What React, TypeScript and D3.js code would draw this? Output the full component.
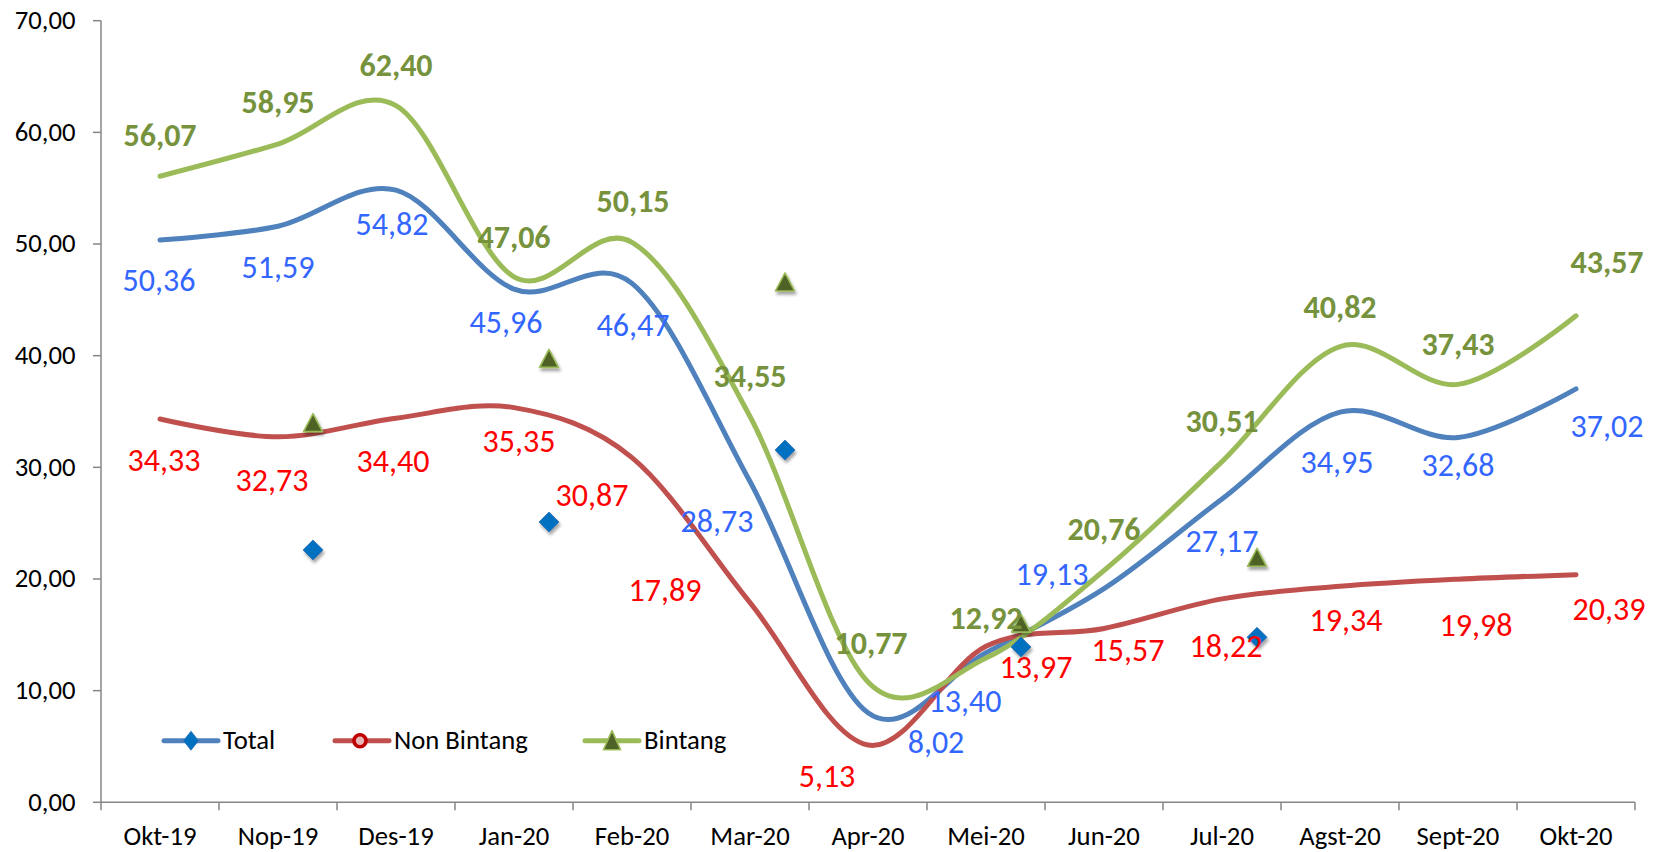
import React from 'react';
import * as d3 from 'd3';

const categories = ['Okt-19', 'Nop-19', 'Des-19', 'Jan-20', 'Feb-20', 'Mar-20', 'Apr-20', 'Mei-20', 'Jun-20', 'Jul-20', 'Agst-20', 'Sept-20', 'Okt-20'];
const total = [50.36, 51.59, 54.82, 45.96, 46.47, 28.73, 8.02, 13.40, 19.13, 27.17, 34.95, 32.68, 37.02];
const nonBintang = [34.33, 32.73, 34.40, 35.35, 30.87, 17.89, 5.13, 13.97, 15.57, 18.22, 19.34, 19.98, 20.39];
const bintang = [56.07, 58.95, 62.40, 47.06, 50.15, 34.55, 10.77, 12.92, 20.76, 30.51, 40.82, 37.43, 43.57];
const yTicks = [0, 10, 20, 30, 40, 50, 60, 70];
const strayCategories = ['Nop-19', 'Jan-20', 'Mar-20', 'Mei-20', 'Jul-20'];
const strayTotal = [22.6, 25.1, 31.55, 13.91, 14.78];
const strayBintang = [34.0, 39.76, 46.6, 16.05, 21.94];

// label offsets (px) from each point to the label centre
const totalLabelOffset = [[-1, 41], [0, 42], [-4, 35], [-8, 34], [1, 43], [-33, 40], [68, 30], [-21, 49], [-52, -14], [0, 43], [-3, 51], [0, 29], [31, 38]];
const nonBintangLabelOffset = [[4, 42], [-6, 44], [-3, 44], [5, 34], [-40, 38], [-85, -12], [-41, 32], [50, 22], [24, 23], [4, 48], [6, 35], [18, 47], [33, 35]];
const bintangLabelOffset = [[0, -40], [0, -41], [0, -40], [0, -39], [1, -40], [0, -40], [3, -38], [0, -39], [0, -40], [0, -40], [0, -39], [0, -39], [31, -53]];

const W = 1663;
const H = 852;
const FONT = 'Carlito, Calibri, Lato, sans-serif';
const fmt = (v: number) => v.toFixed(2).replace('.', ',');

const x = d3.scaleBand<string>().domain(categories).range([101, 1635]).paddingInner(0).paddingOuter(0);
const y = d3.scaleLinear().domain([0, 70]).range([802.3, 20.7]);
const cx = (c: string) => (x(c) as number) + x.bandwidth() / 2;

const line = d3
  .line<number>()
  .x((_, i) => cx(categories[i]))
  .y((d) => y(d))
  .curve(d3.curveCatmullRom.alpha(0));

const series = [
  { name: 'Total', values: total, color: '#4F81BD', label: '#3366FF', bold: false, off: totalLabelOffset },
  { name: 'Non Bintang', values: nonBintang, color: '#C0504D', label: '#FF0000', bold: false, off: nonBintangLabelOffset },
  { name: 'Bintang', values: bintang, color: '#9BBB59', label: '#76923C', bold: true, off: bintangLabelOffset },
];

const STRAY_DX = 35;
const LABEL_SIZE = 32;
const AXIS_SIZE = 26.7;

function Diamond({ px, py, rx, ry, shadow }: { px: number; py: number; rx: number; ry: number; shadow?: boolean }) {
  return (
    <path
      d={`M${px},${py - ry}L${px + rx},${py}L${px},${py + ry}L${px - rx},${py}Z`}
      fill="#0070C0"
      stroke="#2E6DB4"
      strokeWidth={0.8}
      filter={shadow ? 'url(#shadow)' : undefined}
    />
  );
}

function Triangle({ px, py, w, h, shadow }: { px: number; py: number; w: number; h: number; shadow?: boolean }) {
  return (
    <path
      d={`M${px},${py - h / 2}L${px + w / 2},${py + h / 2}L${px - w / 2},${py + h / 2}Z`}
      fill="#4F6228"
      stroke="#9BBB59"
      strokeWidth={1.6}
      strokeLinejoin="round"
      filter={shadow ? 'url(#shadow)' : undefined}
    />
  );
}

export default function App() {
  const axisColor = '#868686';
  const legendY = 740.7;
  const legendText = legendY + 8;
  return (
    <svg
      width={W}
      height={H}
      viewBox={`0 0 ${W} ${H}`}
      style={{ position: 'absolute', left: 0, top: 0, background: '#fff' }}
      fontFamily={FONT}
    >
      <defs>
        <filter id="shadow" x="-50%" y="-50%" width="200%" height="200%">
          <feDropShadow dx="1.5" dy="3" stdDeviation="1.8" floodColor="#000" floodOpacity="0.35" />
        </filter>
      </defs>
      <rect width={W} height={H} fill="#fff" />

      {/* Y axis */}
      <line x1={101} x2={101} y1={y(70)} y2={y(0)} stroke={axisColor} strokeWidth={1.5} />
      {yTicks.map((t) => (
        <g key={t}>
          <line x1={93} x2={101} y1={y(t)} y2={y(t)} stroke={axisColor} strokeWidth={1.5} />
          <text x={75.5} y={y(t) + 8.4} textAnchor="end" fontSize={AXIS_SIZE} fill="#000">
            {fmt(t)}
          </text>
        </g>
      ))}

      {/* X axis */}
      <line x1={101} x2={1635} y1={y(0)} y2={y(0)} stroke={axisColor} strokeWidth={1.5} />
      {categories.map((c) => (
        <line key={'t' + c} x1={x(c)} x2={x(c)} y1={y(0)} y2={y(0) + 8} stroke={axisColor} strokeWidth={1.5} />
      ))}
      <line x1={1635} x2={1635} y1={y(0)} y2={y(0) + 8} stroke={axisColor} strokeWidth={1.5} />
      {categories.map((c) => (
        <text key={'l' + c} x={cx(c)} y={845} textAnchor="middle" fontSize={AXIS_SIZE} fill="#000">
          {c}
        </text>
      ))}

      {/* Lines */}
      {series.map((s) => (
        <path key={s.name} d={line(s.values) || ''} fill="none" stroke={s.color} strokeWidth={5} strokeLinecap="round" strokeLinejoin="round" />
      ))}

      {/* Stray markers */}
      {strayCategories.map((c, i) => (
        <g key={'s' + c}>
          <Diamond px={cx(c) + STRAY_DX} py={y(strayTotal[i])} rx={10} ry={10} shadow />
          <Triangle px={cx(c) + STRAY_DX} py={y(strayBintang[i])} w={19} h={18} shadow />
        </g>
      ))}

      {/* Data labels */}
      {series.map((s) =>
        s.values.map((v, i) => (
          <text
            key={s.name + i}
            x={cx(categories[i]) + s.off[i][0]}
            y={y(v) + s.off[i][1] + 10}
            textAnchor="middle"
            fontSize={LABEL_SIZE}
            fontWeight={s.bold ? 700 : 400}
            fill={s.label}
          >
            {fmt(v)}
          </text>
        ))
      )}

      {/* Legend */}
      <g>
        <line x1={164} x2={218} y1={legendY} y2={legendY} stroke="#4F81BD" strokeWidth={5} strokeLinecap="round" />
        <Diamond px={191} py={legendY} rx={7.5} ry={9.5} />
        <text x={223} y={legendText} fontSize={AXIS_SIZE} fill="#000">Total</text>

        <line x1={335} x2={389} y1={legendY} y2={legendY} stroke="#C0504D" strokeWidth={5} strokeLinecap="round" />
        <circle cx={360} cy={legendY} r={6} fill="#E6B9B8" stroke="#C00000" strokeWidth={3.6} />
        <text x={394} y={legendText} fontSize={AXIS_SIZE} fill="#000">Non Bintang</text>

        <line x1={585} x2={639} y1={legendY} y2={legendY} stroke="#9BBB59" strokeWidth={5} strokeLinecap="round" />
        <Triangle px={612} py={legendY - 0.5} w={17} h={19} />
        <text x={644} y={legendText} fontSize={AXIS_SIZE} fill="#000">Bintang</text>
      </g>
    </svg>
  );
}
